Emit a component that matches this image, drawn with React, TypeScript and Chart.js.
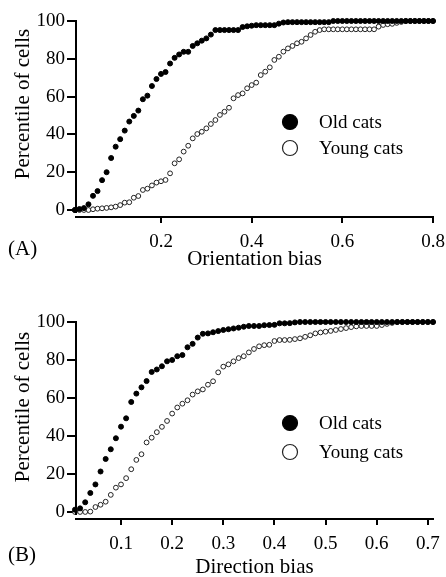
import React, { useEffect, useRef } from "react";
import { Chart, registerables } from "chart.js";

Chart.register(...registerables);

const FONT = '"Liberation Serif", "Times New Roman", "DejaVu Serif", serif';

// ---------- Panel A: orientation bias ----------
const orientationBins = [
  0.01, 0.02, 0.03, 0.04, 0.05, 0.06, 0.07, 0.08, 0.09, 0.1,
  0.11, 0.12, 0.13, 0.14, 0.15, 0.16, 0.17, 0.18, 0.19, 0.2,
  0.21, 0.22, 0.23, 0.24, 0.25, 0.26, 0.27, 0.28, 0.29, 0.3,
  0.31, 0.32, 0.33, 0.34, 0.35, 0.36, 0.37, 0.38, 0.39, 0.4,
  0.41, 0.42, 0.43, 0.44, 0.45, 0.46, 0.47, 0.48, 0.49, 0.5,
  0.51, 0.52, 0.53, 0.54, 0.55, 0.56, 0.57, 0.58, 0.59, 0.6,
  0.61, 0.62, 0.63, 0.64, 0.65, 0.66, 0.67, 0.68, 0.69, 0.7,
  0.71, 0.72, 0.73, 0.74, 0.75, 0.76, 0.77, 0.78, 0.79, 0.8,
];
const orientationOld = [
  0, 0.5, 1, 3, 7.5, 10, 15.8, 20, 27.5, 33.5,
  37.5, 42, 46.8, 49.8, 52.6, 58.6, 60.5, 65.6, 69.3, 72,
  73, 77.5, 80.5, 82.3, 83.7, 83.7, 86.8, 88.2, 89.6, 90.8,
  92.8, 95.2, 95.2, 95.2, 95.2, 95.2, 95.2, 96.8, 97.2, 97.5,
  97.8, 97.8, 97.8, 97.8, 97.8, 98.6, 99.2, 99.4, 99.4, 99.4,
  99.4, 99.4, 99.4, 99.4, 99.4, 99.4, 99.4, 100, 100, 100,
  100, 100, 100, 100, 100, 100, 100, 100, 100, 100,
  100, 100, 100, 100, 100, 100, 100, 100, 100, 100,
];
const orientationYoung = [
  0, 0, 0, 0, 0.4, 0.7, 0.9, 1.1, 1.4, 1.8,
  2.6, 3.9, 4.1, 6.5, 7.4, 10.6, 11.3, 13, 14.5, 15.2,
  15.9, 19.4, 24.7, 26.8, 30.9, 34, 37.9, 40.2, 41.4, 43.2,
  45.5, 47.6, 50.3, 52, 54.1, 59.1, 60.8, 61.7, 64.4, 66.1,
  67.4, 71.4, 73.2, 75.5, 79.4, 81.1, 83.8, 85.5, 86.8, 88.2,
  89, 90.8, 92.6, 94.3, 95.2, 95.6, 95.6, 95.6, 95.6, 95.6,
  95.6, 95.6, 95.6, 95.6, 95.6, 95.6, 95.6, 97, 97.9, 98.3,
  98.5, 99, 99.5, 100, 100, 100, 100, 100, 100, 100,
];
const orientationTicks = [0.2, 0.4, 0.6, 0.8];

// ---------- Panel B: direction bias ----------
const directionBins = [
  0.01, 0.02, 0.03, 0.04, 0.05, 0.06, 0.07, 0.08, 0.09, 0.1,
  0.11, 0.12, 0.13, 0.14, 0.15, 0.16, 0.17, 0.18, 0.19, 0.2,
  0.21, 0.22, 0.23, 0.24, 0.25, 0.26, 0.27, 0.28, 0.29, 0.3,
  0.31, 0.32, 0.33, 0.34, 0.35, 0.36, 0.37, 0.38, 0.39, 0.4,
  0.41, 0.42, 0.43, 0.44, 0.45, 0.46, 0.47, 0.48, 0.49, 0.5,
  0.51, 0.52, 0.53, 0.54, 0.55, 0.56, 0.57, 0.58, 0.59, 0.6,
  0.61, 0.62, 0.63, 0.64, 0.65, 0.66, 0.67, 0.68, 0.69, 0.7,
  0.71,
];
const directionOld = [
  1.2, 1.9, 5.1, 10, 14.5, 21.3, 27.9, 33, 38.8, 44.9,
  49.3, 57.9, 62.3, 65.6, 68.9, 73.7, 75, 76.7, 79.3, 80,
  82, 82.6, 86.7, 88.5, 91.8, 93.8, 94, 94.6, 95.2, 95.8,
  96.2, 96.6, 97, 97.5, 97.9, 97.9, 97.9, 98.3, 98.4, 98.5,
  99.3, 99.3, 99.4, 99.8, 100, 100, 100, 100, 100, 100,
  100, 100, 100, 100, 100, 100, 100, 100, 100, 100,
  100, 100, 100, 100, 100, 100, 100, 100, 100, 100,
  100,
];
const directionYoung = [
  0, 0, 0, 0.2, 2.6, 3.8, 5.4, 9, 12.8, 14.5,
  17.8, 22.5, 27.4, 30.4, 36.6, 39.1, 42, 44.8, 47.9, 51.8,
  55, 57, 58.8, 61.8, 63.5, 64.5, 67, 68.8, 73.5, 76.5,
  77.7, 79.3, 81, 82, 84, 85.8, 87.2, 87.8, 88, 90,
  90.5, 90.5, 90.6, 91, 91.4, 92.2, 93, 94, 94.5, 94.9,
  95.3, 95.8, 96.3, 96.8, 97.3, 97.7, 97.9, 97.9, 97.9, 97.9,
  98.4, 99, 99.5, 100, 100, 100, 100, 100, 100, 100,
  100,
];
const directionTicks = [0.1, 0.2, 0.3, 0.4, 0.5, 0.6, 0.7];

const percentTicks = [0, 20, 40, 60, 80, 100];
const seriesLabels = ["Old cats", "Young cats"];
const yTitle = "Percentile of cells";

const decorPlugin = {
  id: "panelDecor",
  afterDraw(chart: any, _args: any, opts: any) {
    const ctx = chart.ctx;
    const area = chart.chartArea;
    const yScale = chart.scales.y;
    ctx.save();
    // y axis line, from 100 down to just below 0 (offset axes look)
    const yTop = yScale.getPixelForValue(100);
    const yBot = yScale.getPixelForValue(0) + 3;
    ctx.beginPath();
    ctx.moveTo(area.left, yTop - 1);
    ctx.lineTo(area.left, yBot);
    ctx.lineWidth = 2;
    ctx.strokeStyle = "#000";
    ctx.stroke();

    // y title
    ctx.save();
    ctx.translate(opts.yTitleX, opts.yTitleY);
    ctx.rotate(-Math.PI / 2);
    ctx.font = `21px ${FONT}`;
    ctx.textAlign = "center";
    ctx.textBaseline = "middle";
    ctx.fillStyle = "#000";
    ctx.fillText(opts.yTitle, 0, 0);
    ctx.restore();

    // legend
    chart.data.datasets.forEach((ds: any, i: number) => {
      const cx = area.left + opts.legendDx;
      const cy = area.top + opts.legendDy + i * opts.legendGap;
      ctx.beginPath();
      ctx.arc(cx, cy, 7.5, 0, Math.PI * 2);
      ctx.fillStyle = ds.pointBackgroundColor;
      ctx.fill();
      ctx.lineWidth = 1.2;
      ctx.strokeStyle = ds.pointBorderColor;
      ctx.stroke();
      ctx.fillStyle = "#000";
      ctx.font = `19px ${FONT}`;
      ctx.textAlign = "left";
      ctx.textBaseline = "middle";
      ctx.fillText(ds.label, cx + 29, cy + 1);
    });

    // panel label
    ctx.font = `21px ${FONT}`;
    ctx.textAlign = "left";
    ctx.textBaseline = "middle";
    ctx.fillStyle = "#000";
    ctx.fillText(opts.panelLabel, opts.panelX, opts.panelY);
    ctx.restore();
  },
};

type PanelSpec = {
  width: number;
  height: number;
  bins: number[];
  oldVals: number[];
  youngVals: number[];
  xTicks: number[];
  xMin: number;
  xMax: number;
  xTitle: string;
  padTop: number;
  xAxisHeight: number;
  xTitlePadBottom: number;
  legendGap: number;
  panelLabel: string;
  panelY: number;
  yTitleY: number;
};

function buildConfig(p: PanelSpec): any {
  const axisColor = "#000";
  return {
    type: "scatter",
    data: {
      datasets: [
        {
          label: seriesLabels[0],
          data: p.bins.map((x, i) => ({ x, y: p.oldVals[i] })),
          pointRadius: 2.5,
          pointBackgroundColor: "#000",
          pointBorderColor: "#000",
          pointBorderWidth: 1,
          showLine: false,
          clip: false,
        },
        {
          label: seriesLabels[1],
          data: p.bins.map((x, i) => ({ x, y: p.youngVals[i] })),
          pointRadius: 2.4,
          pointBackgroundColor: "#fff",
          pointBorderColor: "#222",
          pointBorderWidth: 1,
          showLine: false,
          clip: false,
        },
      ],
    },
    options: {
      responsive: false,
      animation: false,
      events: [],
      layout: { padding: { top: p.padTop, right: 13, left: 0, bottom: 0 } },
      plugins: {
        legend: { display: false },
        tooltip: { enabled: false },
        panelDecor: {
          legendDx: 214,
          legendDy: 101,
          legendGap: p.legendGap,
          panelLabel: p.panelLabel,
          panelX: 8,
          panelY: p.panelY,
          yTitle: yTitle,
          yTitleX: 23,
          yTitleY: p.yTitleY,
        },
      },
      scales: {
        x: {
          type: "linear",
          min: p.xMin,
          max: p.xMax,
          afterBuildTicks: (s: any) => {
            s.ticks = p.xTicks.map((v) => ({ value: v }));
          },
          afterFit: (s: any) => {
            s.height = p.xAxisHeight;
            s.paddingLeft = 0;
            s.paddingRight = 0;
          },
          border: { display: true, color: axisColor, width: 2 },
          grid: {
            display: true,
            drawOnChartArea: false,
            drawTicks: true,
            tickLength: 6,
            color: axisColor,
            lineWidth: 2,
          },
          ticks: {
            color: "#000",
            font: { family: FONT, size: 19 },
            padding: 8,
            maxRotation: 0,
            autoSkip: false,
            callback: (v: any) => Number(v).toFixed(1),
          },
          title: {
            display: true,
            text: p.xTitle,
            color: "#000",
            font: { family: FONT, size: 21, lineHeight: 1 },
            padding: { top: 0, bottom: p.xTitlePadBottom },
          },
        },
        y: {
          type: "linear",
          min: -3.7,
          max: 100,
          afterBuildTicks: (s: any) => {
            s.ticks = percentTicks.map((v) => ({ value: v }));
          },
          afterFit: (s: any) => {
            s.width = 76;
            s.paddingTop = 0;
            s.paddingBottom = 0;
          },
          border: { display: false },
          grid: {
            display: true,
            drawOnChartArea: false,
            drawTicks: true,
            tickLength: 9,
            color: axisColor,
            lineWidth: 2,
          },
          ticks: {
            color: "#000",
            font: { family: FONT, size: 19 },
            padding: 2,
            callback: (v: any) => String(v),
          },
          title: { display: false },
        },
      },
    },
    plugins: [decorPlugin],
  };
}

function Panel({ spec, top }: { spec: PanelSpec; top: number }) {
  const ref = useRef<HTMLCanvasElement | null>(null);
  useEffect(() => {
    if (!ref.current) return;
    const chart = new Chart(ref.current, buildConfig(spec));
    return () => chart.destroy();
  }, [spec]);
  return (
    <canvas
      ref={ref}
      width={spec.width}
      height={spec.height}
      style={{ position: "absolute", left: 0, top, width: spec.width, height: spec.height, display: "block" }}
    />
  );
}

const panelA: PanelSpec = {
  width: 446,
  height: 290,
  bins: orientationBins,
  oldVals: orientationOld,
  youngVals: orientationYoung,
  xTicks: orientationTicks,
  xMin: 0.0125,
  xMax: 0.8,
  xTitle: "Orientation bias",
  padTop: 21,
  xAxisHeight: 73,
  xTitlePadBottom: 20,
  legendGap: 26,
  panelLabel: "(A)",
  panelY: 249,
  yTitleY: 104,
};

const panelB: PanelSpec = {
  width: 446,
  height: 287,
  bins: directionBins,
  oldVals: directionOld,
  youngVals: directionYoung,
  xTicks: directionTicks,
  xMin: 0.012,
  xMax: 0.71,
  xTitle: "Direction bias",
  padTop: 32,
  xAxisHeight: 58,
  xTitlePadBottom: -1,
  legendGap: 29,
  panelLabel: "(B)",
  panelY: 265,
  yTitleY: 117,
};

export default function App() {
  useEffect(() => {
    document.body.style.margin = "0";
    document.body.style.background = "#fff";
  }, []);
  return (
    <div style={{ position: "relative", width: 446, height: 577, overflow: "hidden", background: "#fff" }}>
      <Panel spec={panelA} top={0} />
      <Panel spec={panelB} top={290} />
    </div>
  );
}
